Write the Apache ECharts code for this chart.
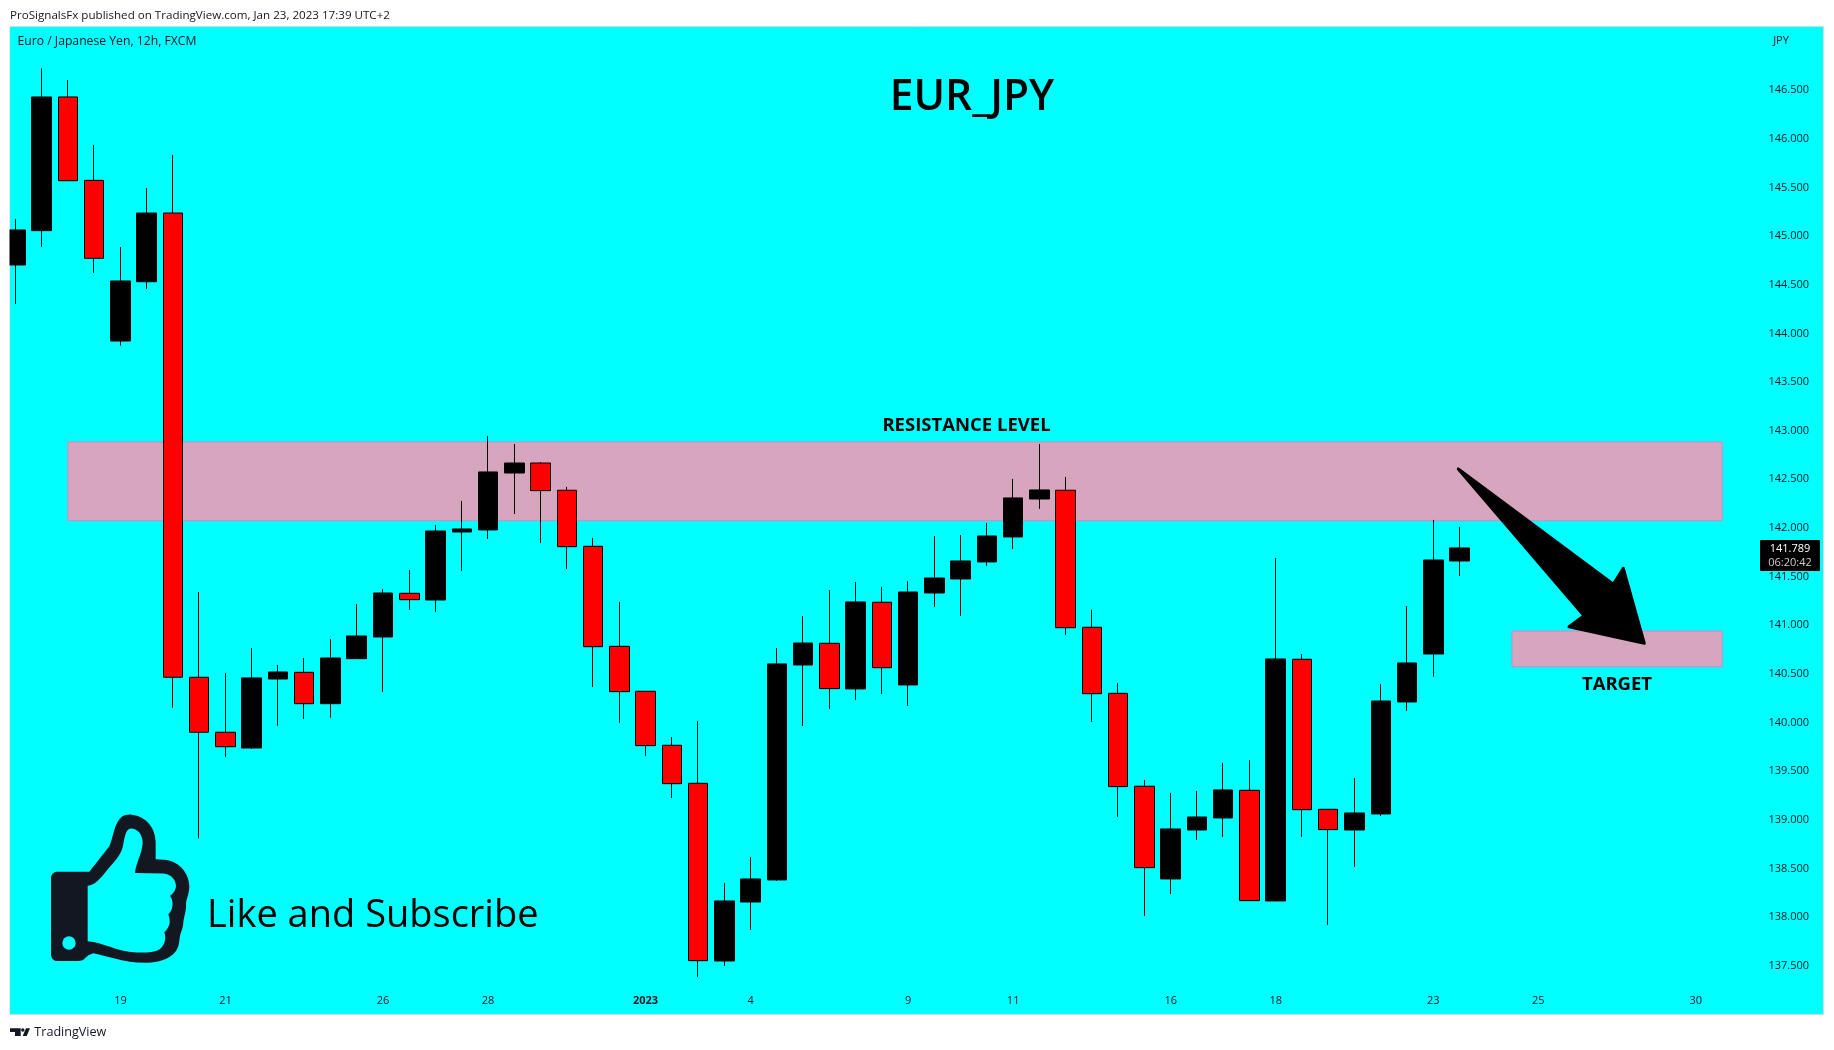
<!DOCTYPE html>
<html><head><meta charset="utf-8">
<style>html,body{margin:0;padding:0;background:#fff}#c{width:1834px;height:1050px}</style>
<script src="https://cdn.jsdelivr.net/npm/echarts@6/dist/echarts.min.js"></script>
</head><body><div id="c"></div>
<script>
// Candles, oldest first (12h bars)
const opens=[144.703,145.056,146.430,145.573,143.922,144.531,145.237,140.466,139.901,139.739,140.448,140.517,140.194,140.657,140.880,141.329,141.260,141.959,141.980,142.565,142.668,142.388,141.812,140.784,140.322,139.767,139.376,137.550,138.156,138.383,140.592,140.815,140.346,141.237,140.387,141.332,141.476,141.651,141.908,142.298,142.388,140.980,140.301,139.346,138.393,138.896,139.020,139.304,138.167,140.651,139.109,138.896,139.061,140.212,140.705,141.661];
const closes=[145.063,146.430,145.569,144.772,144.539,145.237,140.466,139.901,139.752,140.459,140.520,140.194,140.664,140.890,141.332,141.263,141.969,141.990,142.576,142.668,142.384,141.808,140.780,140.318,139.763,139.372,137.553,138.167,138.393,140.603,140.818,140.349,141.240,140.564,141.342,141.486,141.661,141.918,142.309,142.391,140.975,140.297,139.342,138.509,138.907,139.030,139.308,138.170,140.654,139.105,138.900,139.071,140.222,140.613,141.671,141.795];
const lows=[144.302,144.888,145.569,144.621,143.874,144.456,140.153,138.811,139.647,139.729,139.968,140.037,140.051,140.657,140.315,141.158,141.137,141.558,141.887,142.144,141.846,141.579,140.366,139.996,139.657,139.225,137.386,137.499,137.869,138.372,139.965,140.140,140.233,140.294,140.171,141.188,141.096,141.610,141.784,142.196,140.900,140.006,139.030,138.013,138.239,138.794,138.825,138.170,138.167,138.825,137.920,138.516,139.040,140.120,140.472,141.507];
const highs=[145.176,146.725,146.604,145.936,144.888,145.494,145.834,141.342,140.510,140.767,140.592,140.664,140.859,141.219,141.373,141.569,142.031,142.278,142.946,142.863,142.678,142.422,141.898,141.240,140.322,139.852,140.017,138.352,138.619,140.767,141.096,141.363,141.445,141.394,141.455,141.918,141.928,142.052,142.504,142.863,142.524,141.158,140.407,139.410,139.277,139.297,139.585,139.616,141.692,140.705,139.109,139.431,140.397,141.199,142.083,142.011];
const barSlots=69;
const tickSlots=[4,8,14,18,24,28,34,38,44,48,54,58,64];
const tickTexts=['19','21','26','28','2023','4','9','11','16','18','23','25','30'];
const priceTicks=[137.5,138,138.5,139,139.5,140,140.5,141,141.5,142,142.5,143,143.5,144,144.5,145,145.5,146,146.5];
const resistanceZone={from:2,to:65,low:142.075,high:142.884};
const targetZone={from:57,to:65,low:140.575,high:140.941};

const FONT='"Open Sans"';
const categories=Array.from({length:barSlots},(_,i)=>{
  const k=tickSlots.indexOf(i); if(k<0) return '';
  const t=tickTexts[k];
  return t==='2023'?{value:t,textStyle:{fontWeight:'bold',color:'#131722'}}:t;
});
function label(text,x,y,size,opt){opt=opt||{};return {type:'text',x:x,y:y,z:60,silent:true,style:{text:text,fill:opt.fill||'#000',font:(opt.weight||'normal')+' '+size+'px '+(opt.family||FONT),align:opt.align||'left',verticalAlign:'middle'}};}

const HAND_OUTER='M52 197L148 197L208 122C218 100 222 60 240 40C250 30 262 28 275 29C320 34 347 70 347 110L347 160L372 162C420 165 448 205 448 240C448 262 440 275 438 290C440 310 432 330 430 345C430 365 420 375 418 400C415 445 370 465 315 465C250 465 205 445 160 437C150 440 140 445 135 452C130 458 125 460 115 460L52 460C40 460 33 450 33 440L33 215C33 205 42 197 52 197Z';
const HAND_INNER='M143 238C165 236 180 218 195 200C215 175 240 155 248 125C254 100 255 72 272 70C295 70 308 90 308 112C306 145 288 170 285 201L370 202C395 204 408 222 408 240C406 255 398 263 390 268C402 285 400 308 385 323C394 345 388 362 373 375C380 395 374 420 350 430C330 436 310 435 290 435C225 432 190 405 143 402Z';
const arrow=[[1458.3,469],[1613.3,584.3],[1623.3,568.3],[1644.3,643.3],[1569,626.7],[1584,615.7]];

const chart=echarts.init(document.getElementById('c'),null,{renderer:'canvas'});
chart.setOption({
  animation:false,
  backgroundColor:'#ffffff',
  grid:{left:2.27,top:27.3,width:barSlots*26.257,height:986.7},
  xAxis:{type:'category',data:categories,boundaryGap:true,
    axisLine:{show:false},axisTick:{show:false},splitLine:{show:false},
    axisLabel:{inside:true,interval:0,margin:8,color:'#131722',fontFamily:FONT,fontSize:11}},
  yAxis:{type:'value',position:'right',min:137.005,max:147.146,
    axisLine:{show:false},axisTick:{show:false},splitLine:{show:false},
    axisLabel:{show:true,inside:true,margin:5,customValues:priceTicks,formatter:v=>v.toFixed(3),color:'#131722',fontFamily:FONT,fontSize:11}},
  series:[{type:'candlestick',barWidth:20,
    data:opens.map((o,i)=>[o,closes[i],lows[i],highs[i]]),
    itemStyle:{color:'#000000',color0:'#ff0000',borderColor:'#000000',borderColor0:'#000000',borderWidth:1},
    markArea:{silent:true,
      itemStyle:{color:'#d6a6bf',borderColor:'#d984c6',borderWidth:1},
      data:[[{xAxis:resistanceZone.from,yAxis:resistanceZone.high},{xAxis:resistanceZone.to,yAxis:resistanceZone.low}],
            [{xAxis:targetZone.from,yAxis:targetZone.high},{xAxis:targetZone.to,yAxis:targetZone.low}]]}
  },{type:'custom',coordinateSystem:'none',z:55,silent:true,data:[[0]],
    renderItem:()=>({type:'group',x:40,y:804.85,scaleX:1/3,scaleY:0.3395,children:[
      {type:'path',shape:{pathData:HAND_OUTER},style:{fill:'#131722'}},
      {type:'path',shape:{pathData:HAND_INNER},style:{fill:'#00ffff'}},
      {type:'circle',shape:{cx:87,cy:407,r:20},style:{fill:'#00ffff'}}
    ]})
  }],
  graphic:{elements:[
    {type:'rect',z:-1,silent:true,shape:{x:9.5,y:26.5,width:1814,height:988},style:{fill:'#00ffff',stroke:'#d5dadd',lineWidth:1}},
    {type:'rect',z:50,silent:true,shape:{x:0,y:20,width:9.5,height:1000},style:{fill:'#ffffff'}},
    label('ProSignalsFx published on TradingView.com, Jan 23, 2023 17:39 UTC+2',10,15.5,11.6,{fill:'#131722'}),
    label('Euro / Japanese Yen, 12h, FXCM',17.5,42,12.2,{fill:'#131722'}),
    label('JPY',1781,41,11,{fill:'#131722',align:'center'}),
    label('EUR_JPY',972,98,42.5,{weight:'600',align:'center'}),
    label('RESISTANCE LEVEL',966.5,426,18.5,{weight:'bold',align:'center'}),
    label('TARGET',1617,685,18.5,{weight:'bold',align:'center'}),
    label('Like and Subscribe',207,916,38),
    label('TradingView',34.3,1032.7,12.6,{fill:'#131722'}),
    {type:'rect',z:60,silent:true,shape:{x:1760,y:540,width:60,height:31,r:1},style:{fill:'#000'}},
    label('141.789',1790,549,11,{fill:'#fff',align:'center'}),
    label('06:20:42',1790,563,11,{fill:'#ccc',align:'center'}),
    {type:'polygon',z:55,silent:true,shape:{points:arrow},style:{fill:'#000',stroke:'#000',lineWidth:3,lineJoin:'round'}},
    {type:'polygon',z:55,silent:true,shape:{points:[[10,1028.3],[20.7,1028.3],[20.7,1036],[15,1036],[15,1032],[10,1032]]},style:{fill:'#131722'}},
    {type:'circle',z:55,silent:true,shape:{cx:22.8,cy:1030,r:1.7},style:{fill:'#131722'}},
    {type:'polygon',z:55,silent:true,shape:{points:[[26,1028.3],[30,1028.3],[26.7,1036],[22.7,1036]]},style:{fill:'#131722'}}
  ]}
});
</script></body></html>
